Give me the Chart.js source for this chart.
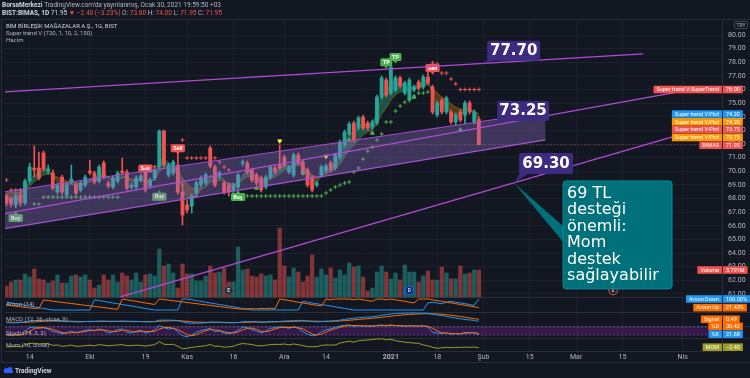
<!DOCTYPE html>
<html>
<head>
    <meta charset="utf-8" />
    <title>BIST:BIMAS</title>
    <script src="https://cdn.jsdelivr.net/npm/chart.js"></script>
    <style>
        html, body { margin: 0; padding: 0; background: #131722; }
        canvas { display: block; }
    </style>
</head>
<body>
<canvas id="chart" width="750" height="378"></canvas>
<script type="text/javascript">

// x axis ticks (bar index -> label)
const tickPos = [5, 18, 30, 39, 49, 60, 69, 83, 93, 103, 113, 123, 133, 146];
const tickLbl = ['14', 'Eki', '19', 'Kas', '16', 'Ara', '14', '2021', '18', 'Şub', '15', 'Mar', '15', 'Nis'];
const priceTicks = [61, 62, 63, 64, 65, 66, 67, 68, 69, 70, 71, 72, 73, 74, 75, 76, 77, 78, 79, 80];

// daily candles, Sep 7 2020 .. Jan 29 2021
const opens = [68.19,67.97,67.53,68.26,67.67,69.29,70.24,70.24,71.34,70.02,
    69.88,68.48,69.58,68.26,69.22,68.99,68.63,68.99,70.02,69.88,
    69.29,70.61,69.14,68.85,69.29,70.02,69.95,68.85,68.85,69.36,
    69.95,68.92,69.51,70.32,72.96,69.73,69.88,70.46,68.48,67.53,
    67.45,68.41,68.99,69.14,71.71,70.32,69.73,69.14,68.99,68.63,
    68.85,70.61,70.61,70.10,69.73,69.51,68.85,69.58,70.24,70.46,
    71.05,69.95,69.73,71.20,70.68,70.10,69.51,68.99,69.73,70.02,
    70.61,70.24,71.05,71.93,72.74,73.54,73.18,73.98,73.54,73.25,
    73.54,75.45,76.70,75.74,75.96,76.85,75.74,75.23,75.96,76.55,
    76.18,76.92,76.18,74.13,75.23,74.35,74.35,73.62,74.35,74.13,
    75.01,73.62,73.80];
const highs = [68.33,68.11,68.41,68.63,69.43,70.61,71.86,71.42,71.49,70.46,
    70.10,69.14,69.73,69.14,70.46,69.14,69.29,69.73,70.83,70.02,
    70.46,70.76,69.29,69.66,70.02,70.98,70.10,69.14,69.66,69.80,
    70.10,69.51,70.39,73.03,73.03,70.61,70.83,71.56,69.14,67.89,
    68.33,69.29,69.66,69.88,71.86,70.46,70.02,69.29,69.14,69.14,
    69.88,70.83,70.76,70.24,69.88,69.66,69.73,70.46,70.39,71.93,
    71.20,70.46,71.34,71.34,70.83,70.24,69.66,69.29,70.46,70.54,
    70.76,71.34,72.30,73.03,73.62,73.69,74.06,74.13,73.69,73.76,
    75.60,76.99,76.85,78.31,76.99,76.99,76.62,76.85,76.33,76.70,
    77.07,77.29,76.33,75.16,75.38,75.52,74.50,74.28,74.50,75.16,
    75.16,74.50,74.00];
const lows = [67.45,67.38,67.31,67.45,67.53,69.14,69.58,69.36,70.02,69.80,
    68.63,68.33,68.33,68.11,69.07,68.26,68.48,68.85,69.73,69.07,
    69.14,69.43,68.77,68.70,69.14,69.73,68.63,68.70,68.70,69.22,
    68.48,68.77,69.36,70.17,70.32,69.58,69.73,68.33,66.06,66.94,
    66.94,68.11,68.85,68.99,70.24,68.85,69.51,68.33,68.19,68.41,
    68.70,70.39,69.80,69.22,68.99,68.48,68.70,69.43,69.80,70.10,
    70.32,69.80,69.58,70.46,69.73,68.85,68.48,68.85,69.58,69.88,
    69.95,70.10,70.90,71.78,72.59,72.15,73.03,73.03,73.03,73.10,
    73.40,75.30,75.45,75.60,75.82,76.11,75.60,75.08,75.82,75.96,
    76.04,76.33,74.20,73.98,74.20,74.20,73.47,73.40,73.62,73.47,
    74.20,73.47,71.95];
const closes = [67.67,67.60,68.19,67.67,69.29,70.32,70.10,69.51,70.17,70.17,
    68.77,68.99,68.48,68.99,69.43,68.41,69.14,69.58,69.88,69.22,
    70.32,69.58,68.92,69.51,69.88,69.88,68.77,68.99,69.51,69.66,
    68.63,69.36,70.10,72.96,70.46,70.46,70.68,68.48,66.79,67.16,
    68.19,69.14,69.51,69.73,70.39,68.99,69.88,68.48,68.48,68.99,
    69.73,70.68,69.95,69.36,69.14,68.63,69.58,70.32,69.95,70.24,
    70.46,70.32,71.20,70.61,69.88,68.99,68.63,69.14,70.32,70.39,
    70.10,71.20,72.15,72.88,73.47,72.30,73.91,73.18,73.18,73.62,
    75.45,76.85,75.60,77.65,76.85,76.26,76.48,76.70,76.18,76.11,
    76.92,76.48,74.35,75.01,74.35,75.38,73.62,74.13,73.76,75.01,
    74.35,74.35,71.95];
// volume, millions
const volumes = [1.54,2.11,2.39,2.39,3.23,2.81,3.93,2.53,2.39,1.97,
    2.25,3.09,1.97,1.97,2.95,3.09,2.81,3.09,2.39,1.26,
    1.68,3.09,2.39,3.09,2.11,3.37,2.95,2.39,3.37,2.11,
    3.09,3.23,2.95,6.74,4.35,4.63,3.37,1.26,4.63,3.23,
    3.23,2.25,2.25,2.95,4.35,3.37,3.51,4.07,2.11,2.11,
    7.02,3.79,3.93,2.95,2.81,3.23,2.95,3.09,2.39,9.69,
    4.35,2.81,4.07,3.51,2.11,2.95,5.90,2.81,3.93,3.09,
    4.07,2.67,3.79,3.09,4.77,4.21,4.35,2.81,0.84,1.26,
    3.51,4.35,3.51,2.53,3.37,2.39,4.49,3.51,3.51,2.11,
    2.95,3.65,2.39,2.39,4.21,3.37,2.53,2.53,4.35,3.23,
    3.37,3.79,3.791];

// Super trend V plots (cloud)
const plotA = [67.89,67.89,67.89,67.89,68.48,69.36,69.73,69.95,70.24,70.10,
    69.66,69.22,69.07,68.92,69.07,68.92,68.92,69.14,69.51,69.51,
    69.73,69.95,69.51,69.29,69.43,69.66,69.51,69.22,69.22,69.36,
    69.22,69.14,69.58,70.83,70.98,70.61,70.46,69.73,68.63,68.04,
    67.97,68.19,68.63,68.92,69.73,69.51,69.73,69.36,68.99,68.85,
    69.14,69.73,70.10,69.95,69.58,69.14,69.14,69.66,69.95,70.24,
    70.61,70.39,70.61,70.83,70.39,69.73,69.14,69.14,69.66,70.02,
    70.24,70.61,71.34,72.15,72.74,72.81,73.32,73.47,73.40,73.47,
    74.35,75.52,75.82,76.55,76.55,76.55,76.26,76.11,76.26,76.33,
    76.70,76.70,75.60,74.86,74.79,74.86,74.13,73.98,74.13,74.50,
    74.64,74.20,73.75];
const plotB = [68.48,68.48,68.48,68.48,68.63,68.92,69.22,69.51,69.73,69.80,
    69.73,69.58,69.43,69.29,69.22,69.14,69.07,69.07,69.22,69.29,
    69.43,69.58,69.51,69.43,69.43,69.51,69.51,69.43,69.36,69.36,
    69.29,69.29,69.36,69.95,70.24,70.24,70.24,70.10,69.51,69.07,
    68.77,68.70,68.77,68.85,69.22,69.22,69.36,69.29,69.14,69.07,
    69.07,69.36,69.58,69.66,69.58,69.43,69.36,69.43,69.58,69.80,
    70.10,70.17,70.32,70.46,70.39,70.10,69.73,69.58,69.66,69.80,
    69.95,70.17,70.54,71.05,71.56,71.93,72.30,72.66,72.88,73.03,
    73.47,74.20,74.64,75.23,75.60,75.82,75.89,75.96,76.04,76.11,
    76.26,76.41,76.11,75.74,75.45,75.30,74.94,74.72,74.57,74.57,
    74.57,74.42,74.20];

// supertrend crosses [bar, price]
const stUp = [[6,67.60],[7,67.60],[8,68.11],[9,68.11],[10,68.11],[11,68.11],[12,68.11],[13,68.11],
    [14,68.11],[15,68.11],[16,68.11],[17,68.11],[18,68.11],[19,68.11],[20,68.11],[21,68.11],
    [22,68.11],[23,68.11],[24,68.11],[51,68.19],[52,68.19],[53,68.19],[54,68.19],[55,68.19],
    [56,68.19],[57,68.19],[58,68.19],[59,68.19],[60,68.19],[61,68.19],[62,68.19],[63,68.19],
    [64,68.19],[65,68.19],[66,68.19],[67,68.19],[68,68.19],[69,68.41],[70,68.63],[71,68.85],
    [72,68.99],[73,69.14],[74,69.22],[75,69.95],[76,70.24],[77,70.90],[78,71.49],[79,71.78],
    [80,72.30],[81,72.74],[82,73.62],[83,73.62],[84,74.42],[85,74.79],[86,75.08],[87,75.30],
    [88,75.52],[89,75.74],[90,75.74],[91,75.82]];
const stDn = [[0,69.36],[1,68.63],[2,68.63],[3,68.63],[30,70.34],[31,70.34],[32,70.34],[38,72.30],
    [39,70.98],[40,70.98],[41,70.98],[42,70.98],[43,70.98],[44,70.98],[45,70.98],[46,70.68],
    [47,70.32],[48,70.10],[92,77.95],[93,77.87],[94,77.21],[95,77.21],[96,76.77],[97,76.41],
    [98,76.00],[99,76.00],[100,76.00],[101,76.00],[102,76.00]];
const triUp = [[54,68.77],[64,69.88],[74,72.30],[79,72.81],[88,75.45],[98,73.03]];
const triDn = [[59,72.22],[69,71.09]];

// signal labels
const sigK = [2, 30, 33, 37, 50, 82, 84, 92];
const sigP = [66.57, 70.20, 68.14, 71.70, 68.11, 78.00, 78.39, 77.58];
const sigTxt = ['Buy', 'Sell', 'Buy', 'Sell', 'Buy', 'TP', 'TP', 'Sell'];

// indicators
const aroonUp = [45,40,35,30,25,20,15,15,91,86,
    80,75,70,64,59,54,48,43,38,32,
    27,22,16,11,6,100,93,86,79,71,
    64,57,50,100,95,90,84,79,74,68,
    63,58,52,47,42,36,31,26,20,15,
    10,8,10,12,10,14,12,15,13,100,
    93,86,79,71,64,57,50,43,36,100,
    93,100,100,100,100,93,100,93,86,79,
    100,100,93,100,93,86,79,71,64,100,
    100,100,93,86,79,71,64,57,50,43,
    36,29,21.43];
const aroonDn = [71,64,57,50,43,36,29,21,14,7,
    0,0,0,0,0,0,0,0,0,93,
    86,79,71,64,57,50,43,36,29,21,
    14,7,0,0,0,0,0,0,100,100,
    93,86,79,71,64,57,50,43,36,29,
    21,14,7,0,0,0,0,0,0,0,
    0,0,0,0,79,71,64,57,50,43,
    36,29,21,14,7,0,0,0,0,0,
    0,0,0,0,0,0,0,0,0,0,
    0,64,71,64,57,71,79,71,64,57,
    50,43,100];
const macd = [-0.2,-0.25,-0.25,-0.2,-0.05,0.1,0.2,0.25,0.3,0.3,
    0.2,0.15,0.05,0,0,-0.05,-0.05,0,0.05,0.05,
    0.1,0.1,0.05,0.05,0.05,0.1,0.05,0,0,0,
    -0.05,-0.05,0,0.3,0.3,0.3,0.3,0.2,-0.05,-0.3,
    -0.35,-0.35,-0.3,-0.25,-0.1,-0.15,-0.15,-0.2,-0.25,-0.25,
    -0.2,-0.05,0,0,-0.05,-0.1,-0.1,0,0,0.05,
    0.1,0.15,0.2,0.25,0.2,0.1,0,-0.05,0,0.05,
    0.1,0.2,0.3,0.45,0.6,0.7,0.8,0.9,0.95,1.0,
    1.15,1.35,1.45,1.6,1.7,1.75,1.78,1.8,1.8,1.78,
    1.78,1.75,1.55,1.4,1.25,1.1,0.9,0.75,0.6,0.45,
    0.35,0.25,0.05];
const signal = [-0.1,-0.12,-0.15,-0.16,-0.14,-0.1,-0.05,0,0.06,0.1,
    0.12,0.13,0.12,0.1,0.08,0.05,0.03,0.02,0.02,0.03,
    0.04,0.05,0.05,0.05,0.05,0.06,0.06,0.05,0.04,0.03,
    0.02,0.01,0.01,0.07,0.12,0.16,0.18,0.19,0.14,0.05,
    -0.03,-0.1,-0.14,-0.16,-0.15,-0.15,-0.15,-0.16,-0.18,-0.19,
    -0.19,-0.16,-0.13,-0.1,-0.09,-0.09,-0.09,-0.07,-0.06,-0.04,
    -0.01,0.02,0.06,0.1,0.12,0.12,0.1,0.07,0.06,0.06,
    0.07,0.09,0.13,0.2,0.28,0.36,0.45,0.54,0.62,0.7,
    0.79,0.9,1.01,1.13,1.24,1.34,1.43,1.5,1.56,1.6,
    1.64,1.66,1.64,1.59,1.52,1.44,1.33,1.21,1.08,0.92,
    0.76,0.62,0.49];
const stochK = [20,15,25,20,50,75,80,70,75,65,
    45,40,30,35,50,35,45,55,60,50,
    65,55,35,45,60,65,40,35,50,55,
    35,45,60,90,75,65,70,45,15,8,
    20,40,55,60,70,45,50,35,30,40,
    55,80,75,60,50,35,50,70,75,80,
    78,70,82,70,45,25,15,20,45,60,
    65,78,88,92,95,85,90,88,86,88,
    92,95,88,95,90,88,85,90,88,85,
    90,80,40,35,30,38,25,30,28,40,
    38,35,21.68];
const stochD = [25,20,20,20,32,48,68,75,75,70,
    62,50,38,35,38,40,43,45,53,55,
    58,57,52,45,47,57,55,47,42,47,
    47,45,47,65,75,77,70,60,43,23,
    14,23,38,52,62,58,55,43,38,35,
    42,58,70,72,62,48,45,52,65,75,
    78,76,77,74,66,47,28,20,27,42,
    57,68,77,86,92,91,90,88,88,87,
    89,92,92,93,91,91,88,88,88,88,
    88,85,70,52,35,34,31,31,28,33,
    35,38,30.42];
const mom = [-1.3,-1.5,-1.0,-1.5,0.5,2.0,2.3,1.5,2.0,1.8,
    0.0,0.5,-1.0,-0.5,0.3,-1.0,-0.8,-0.3,0.2,-0.5,
    0.8,0.3,-0.5,0.0,0.5,0.8,-0.3,-0.2,0.3,0.0,
    -0.8,0.2,0.8,4.0,1.2,1.0,1.2,-1.0,-3.5,-3.0,
    -2.0,-1.5,-0.8,-0.5,1.0,-1.0,-0.8,-2.0,-1.5,-1.0,
    1.0,2.0,1.5,1.0,-0.3,-0.5,0.2,0.8,1.2,1.0,
    1.5,0.5,1.5,0.8,-0.2,-1.3,-1.5,-1.2,0.0,0.5,
    0.3,0.5,2.5,3.5,4.5,3.5,5.0,5.5,5.8,6.2,
    6.9,7.0,6.0,6.5,5.0,4.2,3.5,3.0,2.5,2.2,
    0.5,-0.5,-2.0,-3.1,-2.5,-2.0,-2.5,-2.0,-2.2,-1.8,
    -2.0,-1.8,-2.4];

// drawings: trend lines [bar, price] and the parallel channel
const chanK = [[-0.75, 137.5], [-0.75, 147.2], [24.6, 143.8]];
const chanP = [[75.82, 78.61], [66.87, 75.96], [60.78, 72.52]];
const bandK = [-0.75, 116.4];
const bandTopP = [68.48, 74.35];
const bandBotP = [65.77, 72.30];
const annK = [102.5, 104.2, 109.6];
const annP = [77.90, 73.32, 69.15];
const annTxt = ['77.70', '73.25', '69.30'];
const noteTxt = ['69 TL', 'desteği', 'önemli:', 'Mom', 'destek', 'sağlayabilir'];
const evK = [48, 87, 131];
const evTxt = ['E', 'D', 'E'];

// right side value tags
const tagNames = ['Super trend V:SuperTrend', 'Super trend V:Plot', 'Super trend V:Plot', 'Super trend V:Plot',
    'Super trend V:Plot', 'BIMAS', 'Volume', 'Aroon Down', 'Aroon Up', 'Signal', '%D', '%K', 'MOM'];
const tagVals = [76.00, 74.20, 74.20, 73.75, 73.75, 71.95, 3.791, 100, 21.43, 0.49, 30.42, 21.68, -2.40];
const tagTexts = ['76.00', '74.20', '74.20', '73.75', '73.75', '71.95', '3.791M', '100.00%', '21.43%', '0.49', '30.42', '21.68', '−2.40'];
const tagAxes = ['y', 'y', 'y', 'y', 'y', 'y', 'yv', 'ya', 'ya', 'ym', 'ys', 'ys', 'yo'];
const tagPane = [0, 0, 0, 0, 0, 0, 0, 1, 1, 2, 3, 3, 4];
const tagColors = ['#f05350', '#2196f3', '#ff9800', '#ef5350', '#ff9800', '#ef5350', '#ef5350',
    '#2196f3', '#ff6d00', '#ff6d00', '#ff6d00', '#2196f3', '#9e9d24'];

// ---- layout ----
const AREA_TOP = 21, AREA_BOT = 351;
const paneTops = [21, 297, 312, 326, 338];
const paneBots = [297, 312, 326, 338, 351];
const xMin = -0.32, xMax = 154.5;

// value range so that vTop sits at pixel top and vBot at pixel bot
function paneRange(top, bot, vTop, vBot) {
    const per = (vTop - vBot) / (bot - top);
    return { min: vBot - (AREA_BOT - bot) * per, max: vTop + (top - AREA_TOP) * per };
}

const idx = closes.map((c, i) => i);
const isUp = idx.map(i => closes[i] >= opens[i]);
const candleCol = idx.map(i => isUp[i] ? '#26a69a' : '#ef5350');
const volCol = idx.map(i => isUp[i] ? 'rgba(38,166,154,0.5)' : 'rgba(239,83,80,0.5)');
const pts = arr => arr.map((v, i) => ({ x: i, y: v }));
const pairs = arr => arr.map(p => ({ x: p[0], y: p[1] }));
const seg = (k, p) => [{ x: k[0], y: p[0] }, { x: k[1], y: p[1] }];

function lineDs(label, axis, data, color, width, order, extra) {
    return Object.assign({
        label: label, type: 'line', yAxisID: axis, data: data, borderColor: color,
        borderWidth: width, pointRadius: 0, fill: false, tension: 0, order: order
    }, extra || {});
}

const datasets = [
    { label: 'vol', type: 'bar', yAxisID: 'yv', data: pts(volumes), backgroundColor: volCol,
      barThickness: 3.6, grouped: false, order: 10 },
    lineDs('cloudA', 'y', pts(plotA), 'rgba(76,175,80,0.55)', 0.7, 9,
      { fill: { target: '+1', above: 'rgba(38,166,120,0.42)', below: 'rgba(255,152,0,0.28)' } }),
    lineDs('cloudB', 'y', pts(plotB), 'rgba(255,152,0,0.5)', 0.7, 9),
    { label: 'wick', type: 'bar', yAxisID: 'y', data: idx.map(i => ({ x: i, y: [lows[i], highs[i]] })),
      backgroundColor: candleCol, barThickness: 1, grouped: false, order: 7 },
    { label: 'body', type: 'bar', yAxisID: 'y', data: idx.map(i => ({ x: i, y: [opens[i], closes[i]] })),
      backgroundColor: candleCol, barThickness: 3.2, minBarLength: 1, grouped: false, order: 6 },
    lineDs('stUp', 'y', pairs(stUp), '#4caf50', 1, 5, { showLine: false, pointStyle: 'cross', pointRadius: 2, pointBorderWidth: 1 }),
    lineDs('stDn', 'y', pairs(stDn), '#ef5350', 1, 5, { showLine: false, pointStyle: 'cross', pointRadius: 2, pointBorderWidth: 1 }),
    lineDs('triUp', 'y', pairs(triUp), '#4caf50', 1, 5, { showLine: false, pointStyle: 'triangle', pointRadius: 2.3, backgroundColor: '#4caf50' }),
    lineDs('triDn', 'y', pairs(triDn), '#ffeb3b', 1, 5, { showLine: false, pointStyle: 'triangle', pointRotation: 180, pointRadius: 2.3, backgroundColor: '#ffeb3b' }),
    lineDs('last', 'y', [{ x: xMin, y: closes[closes.length - 1] }, { x: xMax, y: closes[closes.length - 1] }],
      'rgba(239,83,80,0.55)', 1, 4, { borderDash: [1, 2] }),
    lineDs('bandTop', 'y', seg(bandK, bandTopP), '#a84ad0', 1, 2, { fill: { target: '+1', above: 'rgba(149,117,205,0.33)', below: 'rgba(149,117,205,0.33)' } }),
    lineDs('bandBot', 'y', seg(bandK, bandBotP), '#a84ad0', 1.2, 2),
    lineDs('line1', 'y', seg(chanK[0], chanP[0]), '#b04cd4', 1.3, 1),
    lineDs('line2', 'y', seg(chanK[1], chanP[1]), '#b04cd4', 1.3, 1),
    lineDs('line3', 'y', seg(chanK[2], chanP[2]), '#b04cd4', 1.3, 1),
    lineDs('aroonUp', 'ya', pts(aroonUp), '#ff6d00', 1, 1),
    lineDs('aroonDn', 'ya', pts(aroonDn), '#2196f3', 1, 1),
    lineDs('macd', 'ym', pts(macd), '#2196f3', 1, 1),
    lineDs('signal', 'ym', pts(signal), '#ff6d00', 1, 1),
    lineDs('stHi', 'ys', [{ x: xMin, y: 80 }, { x: xMax, y: 80 }], 'rgba(149,117,205,0.7)', 0.8, 3,
      { borderDash: [2, 2], fill: { target: '+1', above: 'rgba(123,31,162,0.33)', below: 'rgba(123,31,162,0.33)' } }),
    lineDs('stLo', 'ys', [{ x: xMin, y: 20 }, { x: xMax, y: 20 }], 'rgba(149,117,205,0.7)', 0.8, 3, { borderDash: [2, 2] }),
    lineDs('stochD', 'ys', pts(stochD), '#ff6d00', 1, 1),
    lineDs('stochK', 'ys', pts(stochK), '#2196f3', 1, 1),
    lineDs('mom', 'yo', pts(mom), '#9e9d24', 1, 1)
];

function rrect(ctx, x, y, w, h, r) {
    ctx.beginPath();
    ctx.moveTo(x + r, y);
    ctx.arcTo(x + w, y, x + w, y + h, r);
    ctx.arcTo(x + w, y + h, x, y + h, r);
    ctx.arcTo(x, y + h, x, y, r);
    ctx.arcTo(x, y, x + w, y, r);
    ctx.closePath();
}

function drawRuns(ctx, x, y, runs) {
    runs.forEach(r => {
        ctx.font = (r[2] ? 'bold ' : '') + '6.5px Roboto';
        ctx.fillStyle = r[1];
        ctx.fillText(r[0], x, y);
        x += ctx.measureText(r[0]).width;
    });
}

function drawSignals(chart) {
    const ctx = chart.ctx, x = chart.scales.x, y = chart.scales.y;
    ctx.save();
    ctx.font = 'bold 5.5px Roboto';
    ctx.textAlign = 'center';
    ctx.textBaseline = 'middle';
    sigK.forEach((k, i) => {
        const t = sigTxt[i];
        const px = x.getPixelForValue(k), py = y.getPixelForValue(sigP[i]);
        const w = ctx.measureText(t).width + 5, h = 8;
        ctx.fillStyle = t === 'Sell' ? '#f05350' : '#4caf50';
        rrect(ctx, px - w / 2, py - h / 2, w, h, 1.5);
        ctx.fill();
        ctx.beginPath();
        if (t === 'Buy') {
            ctx.moveTo(px - 2, py - h / 2); ctx.lineTo(px, py - h / 2 - 2.5); ctx.lineTo(px + 2, py - h / 2);
        } else {
            ctx.moveTo(px - 2, py + h / 2); ctx.lineTo(px, py + h / 2 + 2.5); ctx.lineTo(px + 2, py + h / 2);
        }
        ctx.fill();
        ctx.fillStyle = '#ffffff';
        ctx.fillText(t, px, py + 0.3);
    });
    ctx.restore();
}

function drawTags(chart) {
    const ctx = chart.ctx;
    const right = chart.chartArea.right;
    const ys = tagVals.map((v, i) => chart.scales[tagAxes[i]].getPixelForValue(v));
    const h = 7.6;
    // resolve overlaps per pane
    for (let p = 0; p < paneTops.length; p++) {
        const ids = tagPane.map((q, i) => q === p ? i : -1).filter(i => i >= 0).sort((a, b) => ys[a] - ys[b]);
        for (let j = 1; j < ids.length; j++) {
            if (ys[ids[j]] < ys[ids[j - 1]] + h + 0.2) ys[ids[j]] = ys[ids[j - 1]] + h + 0.2;
        }
        if (ids.length) {
            const over = ys[ids[ids.length - 1]] + h / 2 - paneBots[p];
            if (over > 0) ids.forEach(i => { ys[i] -= over; });
        }
    }
    ctx.save();
    ctx.font = '5.5px Roboto';
    ctx.textBaseline = 'middle';
    tagNames.forEach((n, i) => {
        const nw = ctx.measureText(n).width + 6;
        const vw = ctx.measureText(tagTexts[i]).width + 6;
        ctx.fillStyle = tagColors[i];
        ctx.fillRect(right - nw, ys[i] - h / 2, nw, h);
        ctx.fillRect(right + 1, ys[i] - h / 2, vw, h);
        ctx.fillStyle = '#ffffff';
        ctx.textAlign = 'left';
        ctx.fillText(n, right - nw + 3, ys[i] + 0.3);
        ctx.fillText(tagTexts[i], right + 4, ys[i] + 0.3);
    });
    ctx.restore();
}

function drawNotes(chart) {
    const ctx = chart.ctx, x = chart.scales.x, y = chart.scales.y;
    const boxes = [[6, -23, 53, 20], [8, -25, 52, 20], [5, -30, 54, 21]];
    ctx.save();
    annK.forEach((k, i) => {
        const ax = x.getPixelForValue(k), ay = y.getPixelForValue(annP[i]);
        const b = boxes[i];
        const bx = ax + b[0], by = ay + b[1];
        ctx.fillStyle = '#3d2b80';
        ctx.beginPath();
        ctx.moveTo(bx + 1, by + b[3] - 1); ctx.lineTo(bx + 10, by + b[3] - 1); ctx.lineTo(ax, ay);
        ctx.closePath();
        ctx.fill();
        rrect(ctx, bx, by, b[2], b[3], 2);
        ctx.fill();
        ctx.fillStyle = '#ffffff';
        ctx.font = 'bold 15px "DejaVu Sans"';
        ctx.textAlign = 'center';
        ctx.textBaseline = 'middle';
        ctx.fillText(annTxt[i], bx + b[2] / 2, by + b[3] / 2 + 0.5);
    });
    // callout attached to the 69.30 line
    const ax = x.getPixelForValue(annK[2]), ay = y.getPixelForValue(annP[2]);
    const bx = ax + 49, by = ay - 2, bw = 109, bh = 108;
    ctx.fillStyle = '#00707a';
    ctx.beginPath();
    ctx.moveTo(ax, ay); ctx.lineTo(bx + 1, by + 46); ctx.lineTo(bx + 1, by + 62);
    ctx.closePath();
    ctx.fill();
    rrect(ctx, bx, by, bw, bh, 3);
    ctx.fill();
    ctx.strokeStyle = '#0d8791';
    ctx.lineWidth = 1;
    ctx.stroke();
    ctx.fillStyle = '#ffffff';
    ctx.font = '16px "DejaVu Sans"';
    ctx.textAlign = 'left';
    ctx.textBaseline = 'alphabetic';
    noteTxt.forEach((t, i) => ctx.fillText(t, bx + 4, by + 17 + i * 16.5));
    ctx.restore();
}

function drawEvents(chart) {
    const ctx = chart.ctx, x = chart.scales.x;
    const fills = ['#2a2e39', '#0c2d6b', '#1c1f2b'];
    const rims = ['#4a4e5a', '#2962ff', '#ef5350'];
    ctx.save();
    evK.forEach((k, i) => {
        const px = x.getPixelForValue(k), py = paneBots[0] - 6.5;
        ctx.beginPath();
        ctx.arc(px, py, 4.3, 0, Math.PI * 2);
        ctx.fillStyle = fills[i];
        ctx.fill();
        ctx.strokeStyle = rims[i];
        ctx.lineWidth = 1;
        ctx.stroke();
        ctx.fillStyle = '#d1d4dc';
        ctx.font = 'bold 5px Roboto';
        ctx.textAlign = 'center';
        ctx.textBaseline = 'middle';
        ctx.fillText(evTxt[i], px, py + 0.3);
    });
    ctx.restore();
}

const deco = {
    id: 'deco',
    beforeDraw(chart) {
        const ctx = chart.ctx;
        ctx.save();
        ctx.fillStyle = '#131722';
        ctx.fillRect(0, 0, chart.width, chart.height);
        ctx.restore();
    },
    beforeDatasetsDraw(chart) {
        const ctx = chart.ctx, a = chart.chartArea;
        ctx.save();
        ctx.strokeStyle = '#2a2e39';
        ctx.lineWidth = 1;
        paneTops.slice(1).forEach(t => {
            ctx.beginPath();
            ctx.moveTo(a.left, t + 0.5);
            ctx.lineTo(chart.width, t + 0.5);
            ctx.stroke();
        });
        ctx.restore();
    },
    afterDatasetDraw(chart, args) {
        if (args.meta.label === 'body') drawSignals(chart);
    },
    afterDraw(chart) {
        const ctx = chart.ctx, a = chart.chartArea;
        const n = closes.length - 1;
        const chg = closes[n] - closes[n - 1];
        const pct = chg / closes[n - 1] * 100;
        const f = v => v.toFixed(2);
        ctx.save();
        // frame
        ctx.strokeStyle = '#2a2e39';
        ctx.lineWidth = 1;
        ctx.beginPath();
        ctx.moveTo(1.5, 362.5); ctx.lineTo(1.5, 19.5); ctx.lineTo(chart.width, 19.5);
        ctx.moveTo(1.5, 362.5); ctx.lineTo(chart.width, 362.5);
        ctx.stroke();
        // header
        ctx.textBaseline = 'middle';
        ctx.textAlign = 'left';
        drawRuns(ctx, 2, 5, [['BorsaMerkezi', '#d1d4dc', true],
            [" TradingView.com'da yayınlanmış, Ocak 30, 2021 19:59:50 +03", '#b2b5be', false]]);
        drawRuns(ctx, 2, 13.5, [['BIST:BIMAS, 1D ', '#d1d4dc', true], [f(closes[n]) + ' ', '#d1d4dc', false],
            ['▼ −' + f(Math.abs(chg)) + ' (−' + f(Math.abs(pct)) + '%) ', '#ef5350', false],
            ['O: ', '#b2b5be', false], [f(opens[n]) + ' ', '#ef5350', false],
            ['H: ', '#b2b5be', false], [f(highs[n]) + ' ', '#ef5350', false],
            ['L: ', '#b2b5be', false], [f(lows[n]) + ' ', '#ef5350', false],
            ['C: ', '#b2b5be', false], [f(closes[n]), '#ef5350', false]]);
        // legends
        ctx.font = '6px Roboto';
        ctx.fillStyle = '#d1d4dc';
        ctx.fillText('BİM BİRLEŞİK MAĞAZALAR A.Ş., 1G, BIST', 6, 26);
        ctx.fillStyle = '#b2b5be';
        ctx.fillText('Super trend V (720, 1, 10, 2, 150)', 6, 33);
        ctx.fillText('Hacim', 6, 40);
        ['Aroon (14)', 'MACD (12, 26, close, 9)', 'Stoch (14, 3, 3)', 'Mom (10, close)'].forEach((t, i) => {
            ctx.fillText(t, 6, paneTops[i + 1] + 7);
        });
        // currency box
        ctx.strokeStyle = '#434651';
        rrect(ctx, 734.5, 21.5, 13, 7, 1.5);
        ctx.stroke();
        ctx.font = '5px Roboto';
        ctx.textAlign = 'center';
        ctx.fillText('TRY', 741, 25.3);
        // footer
        ctx.fillStyle = '#2962ff';
        ctx.beginPath();
        ctx.arc(6.5, 370.5, 2.6, 0, Math.PI * 2);
        ctx.arc(10, 369.5, 2.4, 0, Math.PI * 2);
        ctx.fill();
        ctx.fillRect(4, 370.5, 9, 2.5);
        ctx.fillStyle = '#d1d4dc';
        ctx.font = 'bold 6.5px Roboto';
        ctx.textAlign = 'left';
        ctx.fillText('TradingView', 15, 371);
        ctx.restore();
        drawEvents(chart);
        drawTags(chart);
        drawNotes(chart);
    }
};

const hidden = (r) => Object.assign({ type: 'linear', display: false }, r);

new Chart(document.getElementById('chart'), {
    type: 'bar',
    data: { datasets: datasets },
    plugins: [deco],
    options: {
        responsive: false,
        animation: false,
        devicePixelRatio: 1,
        events: [],
        layout: { padding: { top: 21, left: 2, right: 0, bottom: 16 } },
        plugins: { legend: { display: false }, tooltip: { enabled: false }, filler: { propagate: false } },
        scales: {
            x: {
                type: 'linear', min: xMin, max: xMax, offset: false, position: 'bottom',
                afterBuildTicks: axis => { axis.ticks = tickPos.map(v => ({ value: v })); },
                afterFit: axis => { axis.height = 11; },
                ticks: {
                    autoSkip: false, maxRotation: 0, padding: 2, color: '#b2b5be',
                    font: c => ({ family: 'Roboto', size: 7, weight: (c.tick && c.tick.value === 83) ? 'bold' : 'normal' }),
                    callback: v => tickLbl[tickPos.indexOf(v)]
                },
                grid: { color: '#1c202b', drawTicks: false, offset: false },
                border: { color: '#2a2e39' }
            },
            y: Object.assign({
                type: 'linear', position: 'right',
                afterBuildTicks: axis => { axis.ticks = priceTicks.map(v => ({ value: v })); },
                afterFit: axis => { axis.width = 28; },
                ticks: { padding: 6, color: '#b2b5be', font: { family: 'Roboto', size: 7 }, callback: v => v.toFixed(2) },
                grid: { color: '#1c202b', drawTicks: false },
                border: { color: '#2a2e39' }
            }, paneRange(35, 294, 80, 61)),
            yv: hidden(paneRange(228, 297, 9.69, 0)),
            ya: hidden(paneRange(299, 310, 100, 0)),
            ym: hidden(paneRange(313, 321.6, 1.8, 0)),
            ys: hidden(paneRange(324.3, 337.7, 100, 0)),
            yo: hidden(paneRange(339.3, 345.4, 6.5, 0))
        }
    }
});
</script>
</body>
</html>
